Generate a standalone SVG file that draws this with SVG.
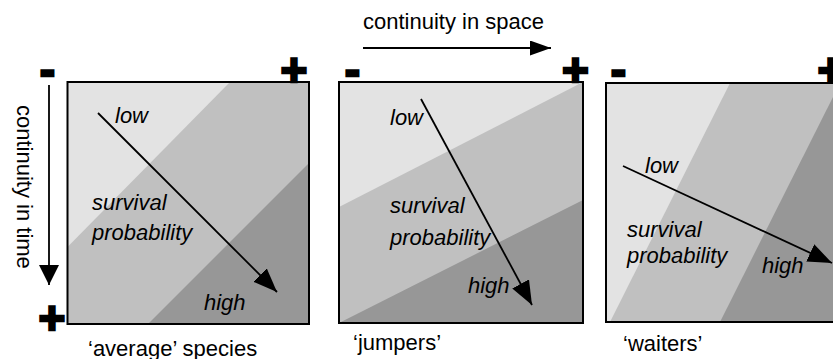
<svg xmlns="http://www.w3.org/2000/svg" width="833" height="359" viewBox="0 0 833 359">
<defs>
<style>
.t{font-family:"Liberation Sans",Arial,sans-serif;font-size:22px;fill:#000}
.i{font-style:italic}
.sg{font-family:"Liberation Sans",Arial,sans-serif;font-weight:bold;font-size:46px;fill:#000;stroke:#000;stroke-width:2.4px;text-anchor:middle}
.lt{fill:#e3e3e3}
.md{fill:#c0c0c0}
.dk{fill:#979797}
.box{fill:none;stroke:#000;stroke-width:2}
.ar{stroke:#000;stroke-width:1.8;fill:none}
</style>
<marker id="ah" markerUnits="userSpaceOnUse" markerWidth="26" markerHeight="20" refX="24" refY="9.5" orient="auto" viewBox="0 0 26 20">
<path d="M0,0 L24,9.5 L0,19 z" fill="#000"/>
</marker>
<marker id="ah2" markerUnits="userSpaceOnUse" markerWidth="22" markerHeight="22" refX="20" refY="10" orient="auto" viewBox="0 0 22 22">
<path d="M0,0 L20,10 L0,20 z" fill="#000"/>
</marker>
<marker id="ah3" markerUnits="userSpaceOnUse" markerWidth="22" markerHeight="16" refX="21" refY="7.5" orient="auto" viewBox="0 0 22 16">
<path d="M0,0 L21,7.5 L0,15 z" fill="#000"/>
</marker>
</defs>

<g id="axis-time">
<text class="t" transform="translate(17,105) rotate(90)">continuity in time</text>
</g>
<g id="axis-space">
<text class="t" x="363" y="29">continuity in space</text>
</g>

<g id="panel-average">
<rect class="md" x="67.5" y="82" width="241.5" height="242"/>
<polygon class="lt" points="67.5,82 230,82 67.5,247"/>
<polygon class="dk" points="309,163 309,324 148,324"/>
<rect class="box" x="67.5" y="82" width="241.5" height="242"/>
<text class="t i" x="115" y="123">low</text>
<text class="t i" x="92" y="210">survival</text>
<text class="t i" x="92" y="240">probability</text>
<text class="t i" x="204" y="310">high</text>
<text class="t" x="88" y="356">‘average’ species</text>
</g>

<g id="panel-jumpers">
<rect class="md" x="339" y="82" width="244" height="241"/>
<polygon class="lt" points="339,82 583,82 339,207"/>
<polygon class="dk" points="583,200 583,323 339,323"/>
<rect class="box" x="339" y="82" width="244" height="241"/>
<text class="t i" x="390" y="125">low</text>
<text class="t i" x="390" y="213">survival</text>
<text class="t i" x="390" y="245">probability</text>
<text class="t i" x="468" y="293">high</text>
<text class="t" x="353" y="350">‘jumpers’</text>
</g>

<g id="panel-waiters">
<rect class="md" x="606" y="83" width="250" height="239"/>
<polygon class="lt" points="606,83 730,83 610,322 606,322"/>
<polygon class="dk" points="840,83 856,83 856,322 720,322"/>
<rect class="box" x="606" y="83" width="250" height="239"/>
<text class="t i" x="645" y="173">low</text>
<text class="t i" x="627" y="237">survival</text>
<text class="t i" x="627" y="263">probability</text>
<text class="t i" x="762" y="273">high</text>
<text class="t" x="623" y="351">‘waiters’</text>
</g>

<g id="signs">
<text class="sg" x="47.5" y="85">-</text>
<text class="sg" x="52" y="334">+</text>
<text class="sg" x="294" y="86">+</text>
<text class="sg" x="352.5" y="85">-</text>
<text class="sg" x="575.5" y="86">+</text>
<text class="sg" x="618.5" y="85">-</text>
<text class="sg" x="831" y="86">+</text>
</g>

<g id="connectors">
<line class="ar" x1="49" y1="85" x2="49" y2="285" marker-end="url(#ah2)"/>
<line class="ar" x1="363" y1="48" x2="551" y2="48" marker-end="url(#ah3)"/>
<line class="ar" x1="98" y1="113" x2="277" y2="292" marker-end="url(#ah)"/>
<line class="ar" x1="421" y1="99" x2="532" y2="305" marker-end="url(#ah)"/>
<line class="ar" x1="623" y1="166" x2="832" y2="263" marker-end="url(#ah)"/>
</g>
</svg>
